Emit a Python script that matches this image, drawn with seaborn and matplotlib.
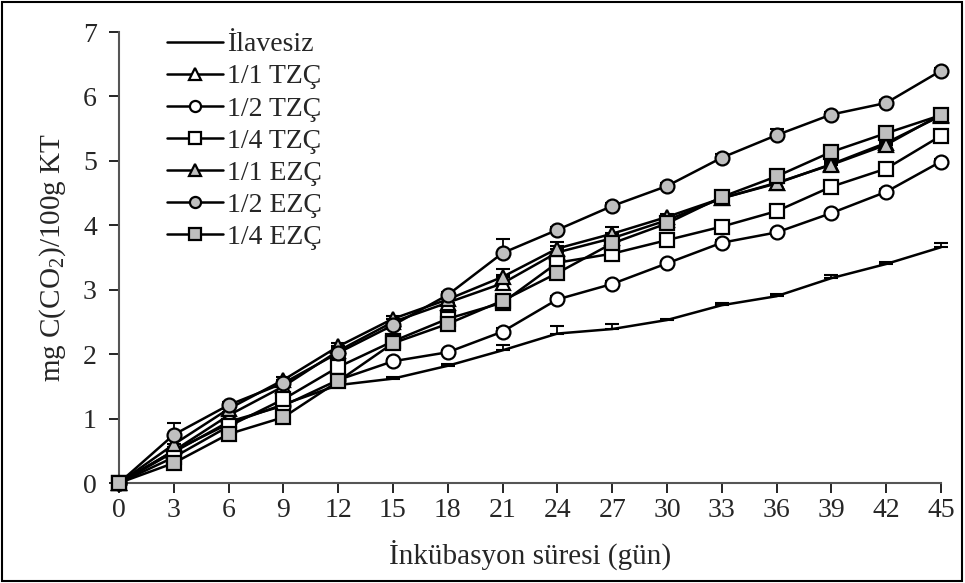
import numpy as np
import pandas as pd
import matplotlib
matplotlib.use("Agg")
import matplotlib.pyplot as plt
import seaborn as sns
from matplotlib.patches import Rectangle

days = [0, 3, 6, 9, 12, 15, 18, 21, 24, 27, 30, 33, 36, 39, 42, 45]
series_names = ["İlavesiz", "1/1 TZÇ", "1/2 TZÇ", "1/4 TZÇ", "1/1 EZÇ", "1/2 EZÇ", "1/4 EZÇ"]

ilavesiz = [0, 0.50, 0.92, 1.22, 1.52, 1.62, 1.82, 2.06, 2.32, 2.39, 2.53, 2.76, 2.90, 3.18, 3.40, 3.66]
tzc_11 = [0, 0.50, 1.05, 1.50, 2.05, 2.50, 2.80, 3.10, 3.58, 3.80, 4.08, 4.42, 4.65, 4.95, 5.28, 5.70]
tzc_12 = [0, 0.48, 0.95, 1.20, 1.60, 1.89, 2.03, 2.35, 2.85, 3.09, 3.41, 3.73, 3.89, 4.19, 4.52, 4.99]
tzc_14 = [0, 0.40, 0.88, 1.30, 1.80, 2.20, 2.55, 2.80, 3.42, 3.56, 3.77, 3.98, 4.22, 4.60, 4.88, 5.39]
ezc_11 = [0, 0.60, 1.15, 1.60, 2.12, 2.55, 2.85, 3.20, 3.64, 3.87, 4.13, 4.42, 4.66, 4.94, 5.25, 5.72]
ezc_12 = [0, 0.75, 1.21, 1.55, 2.02, 2.45, 2.92, 3.57, 3.93, 4.30, 4.61, 5.05, 5.40, 5.72, 5.90, 6.40]
ezc_14 = [0, 0.31, 0.76, 1.02, 1.58, 2.17, 2.47, 2.83, 3.26, 3.72, 4.03, 4.44, 4.76, 5.14, 5.43, 5.71]

err_ilavesiz = [0, 0.05, 0.04, 0.04, 0.03, 0.03, 0.03, 0.08, 0.12, 0.08, 0.02, 0.03, 0.04, 0.05, 0.03, 0.06]
err_tzc_11 = [0, 0.06, 0.05, 0.05, 0.05, 0.05, 0.05, 0.13, 0.10, 0.08, 0.05, 0.05, 0.05, 0.05, 0.05, 0.05]
err_tzc_12 = [0, 0.05, 0.04, 0.04, 0.04, 0.04, 0.04, 0.05, 0.05, 0.05, 0.04, 0.04, 0.04, 0.04, 0.04, 0.04]
err_tzc_14 = [0, 0.05, 0.04, 0.04, 0.04, 0.04, 0.08, 0.05, 0.08, 0.05, 0.04, 0.04, 0.04, 0.04, 0.04, 0.04]
err_ezc_11 = [0, 0.08, 0.05, 0.05, 0.05, 0.05, 0.05, 0.12, 0.10, 0.10, 0.05, 0.05, 0.05, 0.05, 0.05, 0.05]
err_ezc_12 = [0, 0.18, 0.05, 0.05, 0.05, 0.10, 0.05, 0.22, 0.05, 0.05, 0.05, 0.05, 0.10, 0.04, 0.04, 0.04]
err_ezc_14 = [0, 0.06, 0.05, 0.05, 0.05, 0.08, 0.08, 0.10, 0.08, 0.08, 0.05, 0.08, 0.05, 0.05, 0.05, 0.05]

values = [ilavesiz, tzc_11, tzc_12, tzc_14, ezc_11, ezc_12, ezc_14]
errors = [err_ilavesiz, err_tzc_11, err_tzc_12, err_tzc_14, err_ezc_11, err_ezc_12, err_ezc_14]

rows = []
for name, vals in zip(series_names, values):
    for d, v in zip(days, vals):
        rows.append({"day": d, "value": v, "series": name})
df = pd.DataFrame(rows)

sns.set_theme(style="white")
plt.rcParams["font.family"] = ["Liberation Serif", "DejaVu Serif"]
plt.rcParams["mathtext.fontset"] = "custom"
plt.rcParams["mathtext.rm"] = "Liberation Serif"

GRAY = "#BFBFBF"
styles = {
    "İlavesiz": dict(marker=None, mfc="none"),
    "1/1 TZÇ": dict(marker="^", mfc="white"),
    "1/2 TZÇ": dict(marker="o", mfc="white"),
    "1/4 TZÇ": dict(marker="s", mfc="white"),
    "1/1 EZÇ": dict(marker="^", mfc=GRAY),
    "1/2 EZÇ": dict(marker="o", mfc=GRAY),
    "1/4 EZÇ": dict(marker="s", mfc=GRAY),
}

fig = plt.figure(figsize=(9.65, 5.83), dpi=100)
ax = fig.add_axes([0.1233, 0.1715, 0.8518, 0.7735])

for i, name in enumerate(series_names):
    sub = df[df["series"] == name]
    vals = sub["value"].to_numpy()
    err = np.array(errors[i])
    ax.errorbar(sub["day"], vals, yerr=[np.zeros_like(err), err], fmt="none",
                ecolor="black", elinewidth=1.3, capsize=5, capthick=1.5,
                zorder=2 + i * 0.1, clip_on=False)
    st = styles[name]
    sns.lineplot(data=sub, x="day", y="value", ax=ax, color="black",
                 linewidth=1.8, marker=st["marker"], markersize=10 if st["marker"] != "^" else 10.5,
                 markerfacecolor=st["mfc"], markeredgecolor="black", markeredgewidth=1.6,
                 label=name, zorder=3 + i * 0.1, clip_on=False, errorbar=None)

ax.set_xlim(0, 45)
ax.set_ylim(0, 7)
ax.set_xticks(days)
ax.set_yticks(range(0, 8))
ax.tick_params(axis="both", direction="out", length=7, width=1.2, color="black",
               labelsize=20, bottom=True, left=True)
ax.tick_params(axis="y", pad=9)
ax.tick_params(axis="x", pad=4)
for side in ["top", "right"]:
    ax.spines[side].set_visible(False)
for side in ["left", "bottom"]:
    ax.spines[side].set_color("#555555")
    ax.spines[side].set_linewidth(1.5)

ax.set_xlabel("İnkübasyon süresi (gün)", fontsize=21, labelpad=12)
ax.set_ylabel("mg C(CO$_2$)/100g KT", fontsize=21, labelpad=11)

handles, labels = ax.get_legend_handles_labels()
leg = ax.legend(handles, labels, loc="upper left", bbox_to_anchor=(0.045, 1.025),
                frameon=False, fontsize=20, handlelength=2.0, handletextpad=0.15,
                labelspacing=0.24, markerscale=0.8, borderaxespad=0.0)

fig.add_artist(Rectangle((0.002, 0.003), 0.995, 0.994, transform=fig.transFigure,
                         fill=False, edgecolor="black", linewidth=1.5))

fig.savefig("out.png", dpi=100)
